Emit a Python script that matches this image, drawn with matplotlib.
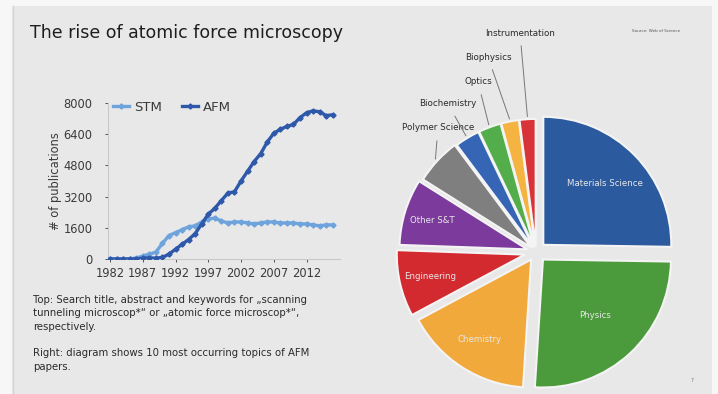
import numpy as np
import matplotlib
matplotlib.use("Agg")
import matplotlib.pyplot as plt
from matplotlib.patches import Rectangle

# Publication counts per year (Web of Science)
years = list(range(1982, 2017))
stm = [0, 0, 0, 0, 50, 150, 250, 350, 800, 1200, 1350, 1500, 1650, 1700, 1900,
       2050, 2100, 1950, 1850, 1900, 1900, 1850, 1800, 1850, 1900, 1900, 1850,
       1850, 1850, 1800, 1800, 1750, 1700, 1750, 1750]
afm = [0, 0, 0, 0, 5, 40, 60, 40, 80, 250, 500, 750, 1000, 1300, 1800, 2300,
       2600, 3000, 3380, 3450, 4000, 4500, 5000, 5400, 6000, 6450, 6650, 6800,
       6900, 7250, 7500, 7600, 7550, 7350, 7400]
x_ticks = [1982, 1987, 1992, 1997, 2002, 2007, 2012]
y_ticks = [0, 1600, 3200, 4800, 6400, 8000]

# Top 10 subject areas of AFM papers (share in %)
topics = ["Materials Science", "Physics", "Chemistry", "Engineering", "Other S&T",
          "Polymer Science", "Biochemistry", "Optics", "Biophysics", "Instrumentation"]
shares = [25.0, 25.5, 16.0, 8.3, 8.3, 5.8, 3.1, 2.8, 2.2, 2.0]
topic_colors = ["#2c5a9e", "#4b9a3c", "#f2a93b", "#d32a30", "#7b3a9c",
                "#7f7f7f", "#3565b4", "#52ad4a", "#f5b342", "#d83338"]

W, H = 718, 394
fig = plt.figure(figsize=(W / 100, H / 100), dpi=100)
fig.patch.set_facecolor("#e8e8e8")

def px_box(x0, y0, x1, y1):
    return [x0 / W, 1 - y1 / H, (x1 - x0) / W, (y1 - y0) / H]

# white frame around the slide
for (x0, y0, x1, y1) in [(0, 0, W, 6), (0, 0, 12, H), (712, 0, W, H)]:
    fig.patches.append(Rectangle((x0 / W, 1 - y1 / H), (x1 - x0) / W, (y1 - y0) / H,
                                 transform=fig.transFigure, facecolor="#f7f7f7",
                                 edgecolor="none", zorder=0))
fig.add_artist(plt.Line2D([13 / W, 13 / W], [0, 1 - 6 / H], color="#d4d4d4", lw=1))

fig.text(30 / W, 1 - 33 / H, "The rise of atomic force microscopy", fontsize=12.5,
         color="#1e1e1e", va="center", ha="left")
fig.text(656 / W, 1 - 31 / H, "Source: Web of Science", fontsize=3, color="#555555",
         va="center", ha="center")
fig.text(692 / W, 1 - 381 / H, "7", fontsize=3.5, color="#777777", va="center", ha="center")

# ---- line chart ----
ax = fig.add_axes(px_box(108, 103, 340, 259))
ax.set_facecolor("none")
ax.plot(years, stm, color="#6ea3dc", lw=2.4, marker="D", ms=2.6, label="STM", zorder=3)
ax.plot(years, afm, color="#2e58aa", lw=2.4, marker="D", ms=2.6, label="AFM", zorder=4)
ax.set_xlim(1981.7, 2017.1)
ax.set_ylim(0, 8000)
ax.set_xticks(x_ticks)
ax.set_yticks(y_ticks)
ax.tick_params(axis="both", labelsize=8.3, colors="#3a3a3a", length=2, width=0.6)
ax.tick_params(axis="x", pad=4)
ax.tick_params(axis="y", pad=9)
for s in ["top", "right"]:
    ax.spines[s].set_visible(False)
for s in ["left", "bottom"]:
    ax.spines[s].set_color("#c8c8c8")
    ax.spines[s].set_linewidth(0.8)
ax.set_ylabel("# of publications", fontsize=8.3, color="#3a3a3a", labelpad=1)
leg = ax.legend(loc="upper left", bbox_to_anchor=(-0.03, 1.09), ncol=2, frameon=False,
                fontsize=9.5, handlelength=1.2, handletextpad=0.4, columnspacing=1.5,
                labelcolor="#3a3a3a")

notes = ("Top: Search title, abstract and keywords for \u201escanning\n"
         "tunneling microscop*\u201c or \u201eatomic force microscop*\u201c,\n"
         "respectively.\n\n"
         "Right: diagram shows 10 most occurring topics of AFM\n"
         "papers.")
fig.text(33 / W, 1 - 295 / H, notes, fontsize=7.3, color="#2a2a2a", va="top", ha="left",
         linespacing=1.42)

# ---- pie chart ----
cx, cy, R = 536, 252, 128
half = 160
pax = fig.add_axes(px_box(cx - half, cy - half, cx + half, cy + half))
explode = [0.08, 0.08, 0.07, 0.09, 0.07, 0.05, 0.04, 0.04, 0.04, 0.04]
wedges, _ = pax.pie(shares, colors=topic_colors, startangle=90, counterclock=False,
                    explode=explode, wedgeprops=dict(edgecolor="#f4f4f4", linewidth=1.5))
pax.set_xlim(-half / R, half / R)
pax.set_ylim(-half / R, half / R)
pax.set_aspect("equal")
pax.axis("off")

inner_r = [0.68, 0.6, 0.74, 0.76, 0.78]
for i in range(5):
    w = wedges[i]
    th = np.deg2rad((w.theta1 + w.theta2) / 2)
    cxw, cyw = w.center
    pax.text(cxw + inner_r[i] * np.cos(th), cyw + inner_r[i] * np.sin(th), topics[i],
             ha="center", va="center", fontsize=6.2, color="#e8e8e8")

# outside label anchors, given in pixels of the slide
label_px = {5: (438, 128), 6: (448, 104), 7: (478, 82), 8: (488, 57), 9: (520, 33)}
for i, (lx, ly) in label_px.items():
    w = wedges[i]
    th = np.deg2rad((w.theta1 + w.theta2) / 2)
    cxw, cyw = w.center
    pax.annotate(topics[i], xy=(cxw + 1.02 * np.cos(th), cyw + 1.02 * np.sin(th)),
                 xytext=((lx - cx) / R, (cy - ly) / R), ha="center", va="center",
                 fontsize=6.3, color="#2a2a2a", annotation_clip=False,
                 arrowprops=dict(arrowstyle="-", color="#777777", lw=0.7,
                                 shrinkA=4, shrinkB=0))

fig.savefig("out.png", dpi=100, facecolor=fig.get_facecolor())
